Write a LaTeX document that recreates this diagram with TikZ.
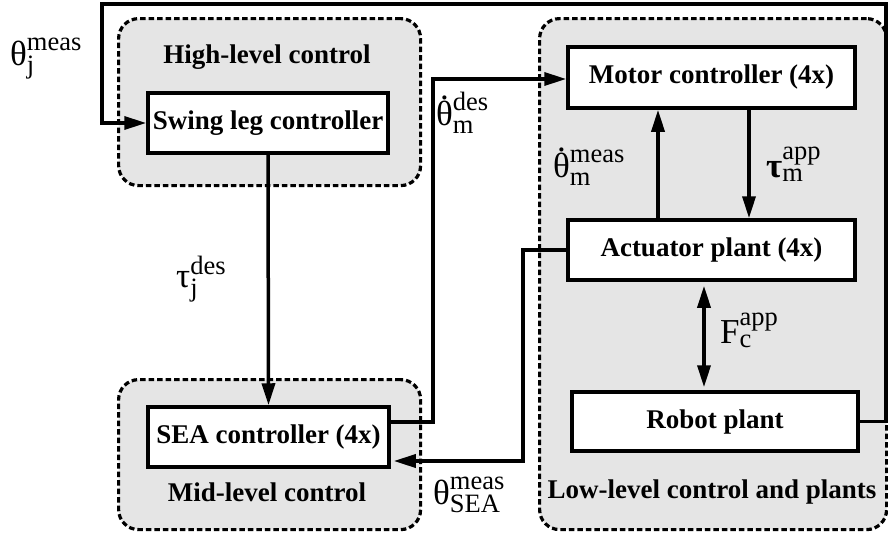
\RequirePackage{fix-cm}
\documentclass[tikz,border=0pt]{standalone}
\usepackage{amsmath}
\usepackage[no-math]{fontspec}
\setmainfont{Liberation Serif}
\usetikzlibrary{arrows.meta}
\definecolor{grp}{RGB}{229,229,229}
\DeclareMathSizes{35}{35}{26.5}{20}
\newcommand\thdot{\leavevmode\ooalign{θ\cr\hidewidth\raisebox{0.74em}{.}\hidewidth\cr}}
\begin{document}
\begin{tikzpicture}[x=1pt,y=-1pt,
  group/.style={draw, dash pattern=on 5.5pt off 3pt, line width=3.2pt, rounded corners=20pt, fill=grp, inner sep=0, anchor=north west},
  blk/.style={draw, line width=3.5pt, fill=white, inner sep=0, font=\fontsize{27}{30}\selectfont\bfseries},
  ttl/.style={font=\fontsize{27}{30}\selectfont\bfseries, anchor=base, inner sep=0},
  lbl/.style={font=\fontsize{35}{40}\selectfont, anchor=base west, inner sep=0},
  tip/.tip={Triangle[length=22pt,width=13pt]},
  arr/.style={line width=3.5pt, -tip},
  darr/.style={line width=3.5pt, tip-tip}
]
\useasboundingbox (0,0) rectangle (888,533);
% groups
\node[group, minimum width=302pt, minimum height=167pt] (high) at (117,17) {};
\node[group, minimum width=302pt, minimum height=150pt] (mid) at (117,378) {};
\node[group, minimum width=347pt, minimum height=511pt] (low) at (538,17) {};
% titles
\node[ttl] (thigh) at (267,63) {High-level control};
\node[ttl] (tmid) at (267,501) {Mid-level control};
\node[ttl] (tlow) at (712,498) {Low-level control and plants};
% blocks
\node[blk, minimum width=240pt, minimum height=60pt] (swing) at (268,123) {Swing leg controller};
\node[blk, minimum width=241pt, minimum height=60pt] (sea) at (268.5,437) {SEA controller (4x)};
\node[blk, minimum width=287pt, minimum height=61pt] (motor) at (711.5,77.5) {Motor controller (4x)};
\node[blk, minimum width=287pt, minimum height=60pt] (act) at (711.5,250) {Actuator plant (4x)};
\node[blk, minimum width=286pt, minimum height=59pt] (robot) at (715,421.5) {Robot plant};
% connector corners
\coordinate (fbR) at (886,4);
\coordinate (fbL) at (102,4);
\coordinate (sm) at (433,422);
\coordinate (as) at (523,461);
% connectors
\draw[arr] (robot.east) -| (fbR) -- (fbL) |- (swing.west);
\draw[arr] (swing.south) -- (sea.north);
\draw[arr] ([yshift=15pt]sea.east) -- (sm) |- ([yshift=-1.5pt]motor.west);
\draw[arr] (act.west) -| (as) -- ([xshift=3pt,yshift=-24pt]sea.east);
\draw[arr] ([xshift=-53.5pt]act.north) -- ([xshift=-53.5pt]motor.south);
\draw[arr] ([xshift=37.5pt]motor.south) -- ([xshift=37.5pt]act.north);
\draw[darr, shorten <=4pt, shorten >=3pt] ([xshift=-7.5pt]act.south) -- ([xshift=-11pt]robot.north);
% labels
\node[lbl] (l1) at (10,65) {$\text{θ}^{\text{meas}}_{\text{j}}$};
\node[lbl] (l2) at (436,125) {$\text{\thdot}^{\text{des}}_{\text{m}}$};
\node[lbl] (l3) at (553,177) {$\text{\thdot}^{\text{meas}}_{\text{m}}$};
\node[lbl] (l4) at (766,177) {$\text{\textbf{τ}}^{\text{app}}_{\text{m}}$};
\node[lbl] (l5) at (176,287) {$\text{τ}^{\text{des}}_{\text{j}}$};
\node[lbl] (l6) at (720,343) {$\text{F}^{\text{app}}_{\text{c}}$};
\node[lbl] (l7) at (433,504) {$\text{θ}^{\text{meas}}_{\text{SEA}}$};
\end{tikzpicture}
\end{document}
